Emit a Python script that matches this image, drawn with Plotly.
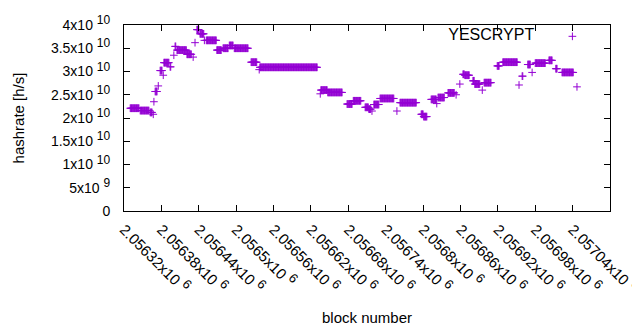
import plotly.graph_objects as go

# Runs of consecutive blocks sharing the same hashrate
run_start = [2056330, 2056346, 2056362, 2056367, 2056368, 2056370, 2056375, 2056378, 2056383, 2056384,
             2056394, 2056400, 2056402, 2056405, 2056421, 2056431, 2056434, 2056437, 2056442, 2056449,
             2056452, 2056469, 2056479, 2056489, 2056497, 2056524, 2056537, 2056538, 2056635, 2056636,
             2056647, 2056678, 2056688, 2056707, 2056713, 2056718, 2056721, 2056731, 2056758, 2056763,
             2056797, 2056801, 2056813, 2056822, 2056824, 2056840, 2056853, 2056859, 2056864, 2056867,
             2056880, 2056883, 2056895, 2056898, 2056919, 2056928, 2056954, 2056959, 2056968, 2056975,
             2056980, 2057002, 2057013, 2057023, 2057047]
run_end = [2056344, 2056360, 2056365, 2056367, 2056368, 2056373, 2056375, 2056381, 2056383, 2056392,
           2056395, 2056400, 2056403, 2056420, 2056428, 2056431, 2056434, 2056440, 2056448, 2056449,
           2056468, 2056476, 2056487, 2056495, 2056519, 2056533, 2056537, 2056630, 2056635, 2056646,
           2056670, 2056686, 2056700, 2056712, 2056716, 2056718, 2056729, 2056753, 2056758, 2056789,
           2056800, 2056806, 2056821, 2056822, 2056834, 2056850, 2056853, 2056859, 2056866, 2056874,
           2056882, 2056891, 2056895, 2056909, 2056922, 2056951, 2056954, 2056960, 2056972, 2056975,
           2056996, 2057007, 2057015, 2057041, 2057047]
run_hashrate = [2.21e10, 2.16e10, 2.12e10, 2.08e10, 2.35e10, 2.57e10, 2.69e10, 3.02e10, 2.92e10, 3.19e10,
                3.10e10, 3.35e10, 3.54e10, 3.46e10, 3.37e10, 3.31e10, 3.62e10, 3.90e10, 3.81e10, 3.67e10,
                3.67e10, 3.46e10, 3.50e10, 3.56e10, 3.50e10, 3.20e10, 3.04e10, 3.09e10, 2.52e10, 2.60e10,
                2.55e10, 2.30e10, 2.37e10, 2.23e10, 2.19e10, 2.15e10, 2.29e10, 2.42e10, 2.15e10, 2.33e10,
                2.08e10, 2.03e10, 2.40e10, 2.31e10, 2.44e10, 2.54e10, 2.50e10, 2.73e10, 2.94e10, 2.92e10,
                2.80e10, 2.73e10, 2.60e10, 2.76e10, 3.12e10, 3.20e10, 2.71e10, 2.90e10, 3.15e10, 2.98e10,
                3.18e10, 3.24e10, 3.06e10, 2.98e10, 2.67e10]

XSUP = " <sup><span style='font-size:13px'>{}</span></sup>"
YSUP = " <sup><span style='font-size:12px'>{}</span></sup>"
x_tickvals = [2056320, 2056380, 2056440, 2056500, 2056560, 2056620, 2056680,
              2056740, 2056800, 2056860, 2056920, 2056980, 2057040, 2057100]
x_ticktext = ["2.05632x10" + XSUP.format(6), "2.05638x10" + XSUP.format(6), "2.05644x10" + XSUP.format(6),
              "2.0565x10" + XSUP.format(6), "2.05656x10" + XSUP.format(6), "2.05662x10" + XSUP.format(6),
              "2.05668x10" + XSUP.format(6), "2.05674x10" + XSUP.format(6), "2.0568x10" + XSUP.format(6),
              "2.05686x10" + XSUP.format(6), "2.05692x10" + XSUP.format(6), "2.05698x10" + XSUP.format(6),
              "2.05704x10" + XSUP.format(6), "2.0571x10" + XSUP.format(6)]
y_tickvals = [0, 5e9, 1e10, 1.5e10, 2e10, 2.5e10, 3e10, 3.5e10, 4e10]
y_ticktext = ["0", "5x10" + YSUP.format(9), "1x10" + YSUP.format(10), "1.5x10" + YSUP.format(10),
              "2x10" + YSUP.format(10), "2.5x10" + YSUP.format(10), "3x10" + YSUP.format(10),
              "3.5x10" + YSUP.format(10), "4x10" + YSUP.format(10)]

blocks = []
hashrate = []
for s, e, v in zip(run_start, run_end, run_hashrate):
    for b in range(s, e + 1):
        blocks.append(b)
        hashrate.append(v)

COLOR = "#9400d3"
FONT = "Liberation Sans, Arial, sans-serif"

fig = go.Figure()
fig.add_trace(go.Scatter(
    x=blocks, y=hashrate, mode="markers", name="",
    hovertemplate="YESCRYPT<br>%{x}: %{y}<extra></extra>",
    marker=dict(symbol="cross-thin", size=5.5, color=COLOR,
                line=dict(color=COLOR, width=1)),
))

axis_common = dict(showgrid=False, zeroline=False, showline=True, linecolor="black",
                   linewidth=1, ticks="inside", ticklen=6, tickcolor="black",
                   mirror="ticks", automargin=False)

# the page body adds an 8px offset, so margins are compensated for it
fig.update_layout(
    width=640, height=330,
    margin=dict(l=116, r=38, t=11, b=127),
    paper_bgcolor="white", plot_bgcolor="white",
    font=dict(family=FONT, size=14, color="black"),
    showlegend=True,
    legend=dict(x=0.663, y=1.03, xanchor="left", yanchor="top", itemwidth=50,
                bgcolor="rgba(0,0,0,0)", font=dict(family=FONT, size=16, color="black"),
                title=dict(text="YESCRYPT", side="left",
                           font=dict(family=FONT, size=16, color="black"))),
    xaxis=dict(range=[2056320, 2057100], tickvals=x_tickvals, ticktext=x_ticktext,
               tickangle=45, ticklabelstandoff=3,
               tickfont=dict(family=FONT, size=15, color="black"),
               title=dict(text="block number", standoff=17,
                          font=dict(family=FONT, size=15)),
               **axis_common),
    yaxis=dict(range=[0, 4e10], tickvals=y_tickvals, ticktext=y_ticktext,
               ticklabelstandoff=10,
               tickfont=dict(family=FONT, size=14, color="black"),
               title=dict(text="hashrate [h/s]", standoff=22,
                          font=dict(family=FONT, size=15)),
               **axis_common),
)

fig.write_html("out.html")
